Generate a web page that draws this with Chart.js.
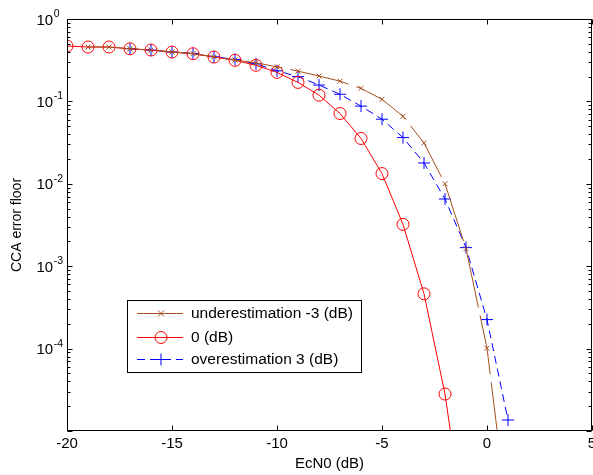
<!DOCTYPE html>
<html>
<head>
<meta charset="utf-8">
<script src="https://cdn.jsdelivr.net/npm/chart.js@4"></script>
<style>
  body { margin: 0; background: #fff; }
  canvas { display: block; }
</style>
</head>
<body>
<canvas id="cca" width="593" height="475"></canvas>
<script>
// EcN0 (dB) sample points
const ecn0 = [-20, -19, -18, -17, -16, -15, -14, -13, -12, -11, -10, -9, -8, -7, -6, -5, -4, -3, -2, -1, 0, 1];
// CCA error floor per EcN0 estimation offset (null = not plotted)
const under3 = [null, 0.457, 0.457, 0.435, 0.42, 0.398, 0.38, 0.348, 0.318, 0.294, 0.263, 0.233, 0.203, 0.176, 0.144, 0.106, 0.066, 0.0313, 0.01, 0.00163, 1.01e-4, 8.7e-7];
const zero0 = [0.47, 0.457, 0.457, 0.435, 0.42, 0.397, 0.379, 0.345, 0.315, 0.274, 0.225, 0.17, 0.119, 0.0713, 0.0355, 0.0133, 0.00322, 4.62e-4, 2.81e-5, 5e-7, null, null];
const over3 = [null, null, null, 0.435, 0.42, 0.397, 0.382, 0.348, 0.324, 0.286, 0.235, 0.2, 0.158, 0.122, 0.0876, 0.0608, 0.0364, 0.0179, 0.00654, 0.00168, 2.25e-4, 1.36e-5];
const seriesNames = ["underestimation -3 (dB)", "0 (dB)", "overestimation 3 (dB)"];
const xTicks = [-20, -15, -10, -5, 0, 5];
const yLabelExps = [0, -1, -2, -3, -4];

const FONT = "'Liberation Sans', Arial, Helvetica, sans-serif";
const BROWN = "#a5501e";

function pts(ys) {
  return ecn0.map((x, i) => ({x: x, y: ys[i]})).filter(p => p.y != null);
}

// axes box, inside ticks, tick labels and the MATLAB-style legend
const matlabFrame = {
  id: "matlabFrame",
  afterDatasetsDraw(chart) {
    const {ctx, chartArea: a, scales: {x, y}} = chart;
    const L = Math.round(a.left) + 0.5, R = Math.round(a.right) - 0.5;
    const T = Math.round(a.top) + 0.5, B = Math.round(a.bottom) - 0.5;
    ctx.save();
    ctx.strokeStyle = "#000";
    ctx.lineWidth = 1;
    ctx.strokeRect(L, T, R - L, B - T);

    ctx.beginPath();
    xTicks.forEach(v => {
      const px = Math.round(x.getPixelForValue(v)) + 0.5;
      ctx.moveTo(px, B); ctx.lineTo(px, B - 5);
      ctx.moveTo(px, T); ctx.lineTo(px, T + 5);
    });
    for (let e = -5; e <= 0; e++) {
      const py = Math.round(y.getPixelForValue(Math.pow(10, e))) + 0.5;
      ctx.moveTo(L, py); ctx.lineTo(L + 5, py);
      ctx.moveTo(R, py); ctx.lineTo(R - 5, py);
      if (e < 0) {
        for (let k = 2; k <= 9; k++) {
          const pm = Math.round(y.getPixelForValue(k * Math.pow(10, e))) + 0.5;
          ctx.moveTo(L, pm); ctx.lineTo(L + 3, pm);
          ctx.moveTo(R, pm); ctx.lineTo(R - 3, pm);
        }
      }
    }
    ctx.stroke();

    ctx.fillStyle = "#000";
    // x tick labels
    ctx.font = "15px " + FONT;
    ctx.textAlign = "center";
    ctx.textBaseline = "middle";
    xTicks.forEach(v => {
      ctx.fillText(String(v), x.getPixelForValue(v), a.bottom + 12.5);
    });

    // y tick labels as 10 with a superscript exponent
    ctx.textAlign = "left";
    ctx.textBaseline = "alphabetic";
    yLabelExps.forEach(e => {
      const py = y.getPixelForValue(Math.pow(10, e));
      ctx.font = "15px " + FONT;
      ctx.fillText("10", 36.5, py + 5.5);
      const w = ctx.measureText("10").width;
      ctx.font = "10.5px " + FONT;
      ctx.fillText(String(e), 36.5 + w + 0.5, py - 2);
    });

    // legend
    const lx = 127.5, ly = 300.5, lw = 234, lh = 72;
    ctx.fillStyle = "#fff";
    ctx.fillRect(lx, ly, lw, lh);
    ctx.strokeRect(lx, ly, lw, lh);
    const rows = [312.7, 336.7, 359.3];
    chart.data.datasets.forEach((ds, i) => {
      const ry = Math.round(rows[i]) + 0.5;
      ctx.strokeStyle = ds.borderColor;
      ctx.lineWidth = 1;
      ctx.setLineDash(i === 2 ? [8, 5] : []);
      ctx.beginPath();
      ctx.moveTo(137, ry); ctx.lineTo(183, ry);
      ctx.stroke();
      ctx.setLineDash([]);
      ctx.beginPath();
      if (ds.pointStyle === "circle") {
        ctx.arc(161, ry, 6, 0, Math.PI * 2);
      } else if (ds.pointStyle === "crossRot") {
        ctx.moveTo(158, ry - 3); ctx.lineTo(164, ry + 3);
        ctx.moveTo(164, ry - 3); ctx.lineTo(158, ry + 3);
      } else {
        ctx.moveTo(155, ry); ctx.lineTo(167, ry);
        ctx.moveTo(161, ry - 6); ctx.lineTo(161, ry + 6);
      }
      ctx.stroke();
      ctx.fillStyle = "#000";
      ctx.font = "15.5px " + FONT;
      ctx.textBaseline = "middle";
      ctx.fillText(ds.label, 191, ry + 0.5);
    });
    ctx.restore();
  }
};

new Chart("cca", {
  type: "line",
  data: {
    datasets: [{
      label: seriesNames[0],
      data: pts(under3),
      borderColor: BROWN,
      borderWidth: 1,
      borderDash: [60, 8],
      pointStyle: "crossRot",
      pointRadius: 3.5,
      pointBorderColor: BROWN,
      pointBackgroundColor: "transparent",
      pointBorderWidth: 1,
      tension: 0,
      fill: false
    }, {
      label: seriesNames[1],
      data: pts(zero0),
      borderColor: "#ff0000",
      borderWidth: 1,
      pointStyle: "circle",
      pointRadius: 6,
      pointBorderColor: "#ff0000",
      pointBackgroundColor: "transparent",
      pointBorderWidth: 1,
      tension: 0,
      fill: false
    }, {
      label: seriesNames[2],
      data: pts(over3),
      borderColor: "#0000ff",
      borderWidth: 1,
      borderDash: [8, 5],
      pointStyle: "cross",
      pointRadius: 6,
      pointBorderColor: "#0000ff",
      pointBackgroundColor: "transparent",
      pointBorderWidth: 1,
      tension: 0,
      fill: false
    }]
  },
  options: {
    responsive: false,
    animation: false,
    devicePixelRatio: 1,
    layout: {autoPadding: false, padding: {top: 19, right: 1, left: 0, bottom: 0}},
    plugins: {
      legend: {display: false},
      tooltip: {enabled: false}
    },
    scales: {
      x: {
        type: "linear",
        min: -20,
        max: 5,
        grid: {display: false, drawTicks: false},
        border: {display: false},
        ticks: {display: false, stepSize: 5},
        title: {
          display: true,
          text: "EcN0 (dB)",
          color: "#000",
          padding: {top: 0, bottom: 2},
          font: {family: FONT, size: 15}
        },
        afterFit(s) { s.height = 44; s.paddingLeft = 0; s.paddingRight = 0; }
      },
      y: {
        type: "logarithmic",
        min: 1e-5,
        max: 1,
        grid: {display: false, drawTicks: false},
        border: {display: false},
        ticks: {display: false},
        title: {
          display: true,
          text: "CCA error floor",
          color: "#000",
          padding: {top: 9, bottom: 0},
          font: {family: FONT, size: 14}
        },
        afterFit(s) { s.width = 67; s.paddingTop = 0; s.paddingBottom = 0; }
      }
    }
  },
  plugins: [matlabFrame]
});
</script>
</body>
</html>
